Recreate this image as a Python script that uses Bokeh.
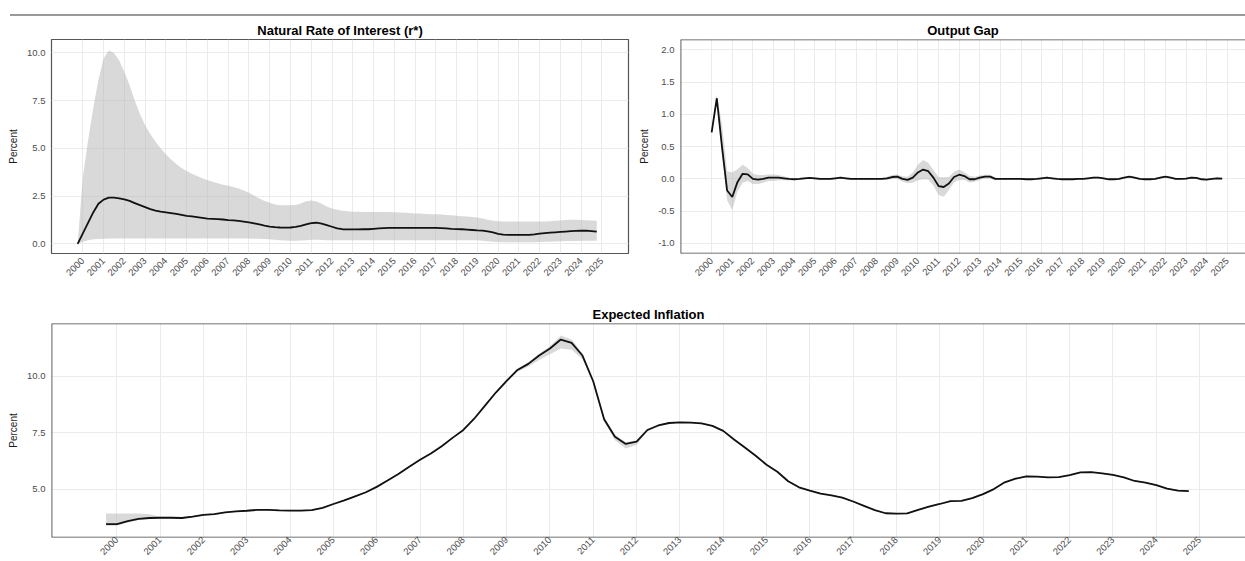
import math
from bokeh.plotting import figure
from bokeh.layouts import column, row
from bokeh.models import FixedTicker, Range1d, PrintfTickFormatter, Div, Span
from bokeh.embed import file_html
from bokeh.resources import INLINE

FONT = "Liberation Sans"

# ---------------- data ----------------
years = list(range(2000, 2026))
year_labels = [str(y) for y in years]

# Natural rate of interest, quarterly from 1999Q4 (1999.75) to 2024.75
rstar_start = 1999.75
rstar = [0.00,
         0.55, 1.10, 1.65, 2.10,
         2.32, 2.42, 2.42, 2.39,
         2.33, 2.25, 2.14, 2.03,
         1.93, 1.82, 1.75, 1.69,
         1.65, 1.61, 1.57, 1.52,
         1.47, 1.44, 1.40, 1.36,
         1.32, 1.31, 1.30, 1.28,
         1.25, 1.23, 1.21, 1.17,
         1.13, 1.08, 1.02, 0.96,
         0.91, 0.88, 0.86, 0.85,
         0.86, 0.89, 0.95, 1.03,
         1.09, 1.11, 1.06, 0.98,
         0.90, 0.82, 0.77, 0.76,
         0.76, 0.76, 0.77, 0.77,
         0.79, 0.81, 0.83, 0.84,
         0.84, 0.84, 0.84, 0.84,
         0.84, 0.84, 0.84, 0.84,
         0.84, 0.83, 0.81, 0.79,
         0.78, 0.77, 0.75, 0.73,
         0.71, 0.70, 0.66, 0.60,
         0.53, 0.49, 0.47, 0.47,
         0.47, 0.47, 0.47, 0.50,
         0.54, 0.57, 0.59, 0.61,
         0.63, 0.65, 0.67, 0.68,
         0.69, 0.70, 0.67, 0.64]
rstar_hi = [0.00,
            3.50, 5.40, 7.10, 8.60,
            9.70, 10.12, 10.00, 9.60,
            9.00, 8.30, 7.50, 6.80,
            6.20, 5.75, 5.35, 5.00,
            4.70, 4.42, 4.18, 3.98,
            3.82, 3.68, 3.55, 3.44,
            3.35, 3.26, 3.18, 3.10,
            3.04, 2.98, 2.90, 2.80,
            2.68, 2.52, 2.38, 2.25,
            2.15, 2.07, 2.03, 2.02,
            2.02, 2.04, 2.12, 2.24,
            2.28, 2.22, 2.10, 1.96,
            1.86, 1.79, 1.74, 1.71,
            1.69, 1.68, 1.67, 1.67,
            1.67, 1.67, 1.67, 1.67,
            1.66, 1.65, 1.63, 1.62,
            1.60, 1.59, 1.57, 1.56,
            1.55, 1.54, 1.52, 1.50,
            1.48, 1.45, 1.43, 1.41,
            1.38, 1.33, 1.27, 1.22,
            1.19, 1.18, 1.17, 1.17,
            1.17, 1.17, 1.17, 1.17,
            1.17, 1.18, 1.19, 1.21,
            1.23, 1.25, 1.26, 1.26,
            1.25, 1.24, 1.23, 1.22]
rstar_lo = [0.00,
            0.12, 0.20, 0.24, 0.26,
            0.27, 0.28, 0.28, 0.28,
            0.28, 0.28, 0.28, 0.28,
            0.28, 0.28, 0.28, 0.28,
            0.28, 0.28, 0.28, 0.28,
            0.28, 0.28, 0.28, 0.28,
            0.28, 0.28, 0.28, 0.28,
            0.28, 0.28, 0.28, 0.28,
            0.28, 0.27, 0.27, 0.26,
            0.25, 0.22, 0.20, 0.18,
            0.17, 0.17, 0.18, 0.20,
            0.22, 0.22, 0.21, 0.20,
            0.20, 0.20, 0.20, 0.20,
            0.20, 0.20, 0.20, 0.20,
            0.20, 0.20, 0.20, 0.20,
            0.20, 0.20, 0.20, 0.20,
            0.20, 0.20, 0.20, 0.20,
            0.20, 0.20, 0.20, 0.20,
            0.20, 0.20, 0.20, 0.20,
            0.19, 0.17, 0.14, 0.12,
            0.10, 0.09, 0.09, 0.09,
            0.09, 0.09, 0.09, 0.09,
            0.10, 0.11, 0.12, 0.13,
            0.14, 0.15, 0.16, 0.16,
            0.17, 0.17, 0.17, 0.17]

# Output gap, quarterly from 2000.0 to 2024.75
gap_start = 2000.0
gap = [0.72, 1.25, 0.50, -0.18,
       -0.28, -0.05, 0.08, 0.07,
       0.00, -0.01, 0.00, 0.02,
       0.02, 0.02, 0.01, 0.00,
       -0.005, 0.00, 0.01, 0.015,
       0.01, 0.00, 0.00, 0.00,
       0.01, 0.02, 0.01, 0.00,
       0.00, 0.00, 0.00, 0.00,
       0.00, 0.00, 0.01, 0.03,
       0.035, 0.00, -0.015, 0.02,
       0.10, 0.145, 0.12, 0.02,
       -0.11, -0.125, -0.07, 0.03,
       0.065, 0.045, -0.005, -0.005,
       0.02, 0.035, 0.035, 0.00,
       0.00, 0.00, 0.00, 0.00,
       0.00, -0.005, -0.005, 0.00,
       0.01, 0.02, 0.01, 0.00,
       -0.005, -0.005, -0.005, 0.00,
       0.00, 0.01, 0.02, 0.02,
       0.01, -0.005, -0.005, 0.00,
       0.02, 0.035, 0.02, 0.00,
       -0.005, -0.005, 0.00, 0.02,
       0.035, 0.02, 0.00, 0.00,
       0.005, 0.02, 0.015, -0.005,
       -0.01, 0.00, 0.01, 0.005]
gap_dev_hi = [0.02, 0.05, 0.35, 0.30,
              0.38, 0.20, 0.14, 0.10,
              0.08, 0.07, 0.06, 0.05,
              0.05, 0.04, 0.03, 0.02,
              0.015, 0.015, 0.015, 0.015,
              0.015, 0.015, 0.015, 0.015,
              0.015, 0.015, 0.015, 0.015,
              0.015, 0.015, 0.015, 0.015,
              0.015, 0.015, 0.025, 0.03,
              0.035, 0.04, 0.05, 0.08,
              0.12, 0.15, 0.13, 0.12,
              0.14, 0.15, 0.10, 0.08,
              0.08, 0.06, 0.05, 0.04,
              0.035, 0.03, 0.03, 0.02,
              0.012, 0.012, 0.012, 0.012,
              0.012, 0.012, 0.012, 0.012,
              0.012, 0.012, 0.012, 0.012,
              0.012, 0.012, 0.012, 0.012,
              0.012, 0.012, 0.012, 0.012,
              0.012, 0.012, 0.012, 0.012,
              0.012, 0.012, 0.012, 0.012,
              0.012, 0.012, 0.012, 0.012,
              0.012, 0.012, 0.012, 0.012,
              0.012, 0.012, 0.012, 0.012,
              0.012, 0.012, 0.012, 0.012]
gap_dev_lo = [0.02, 0.05, 0.10, 0.15,
              0.20, 0.15, 0.14, 0.10,
              0.08, 0.07, 0.06, 0.05,
              0.05, 0.04, 0.03, 0.02,
              0.015, 0.015, 0.015, 0.015,
              0.015, 0.015, 0.015, 0.015,
              0.015, 0.015, 0.015, 0.015,
              0.015, 0.015, 0.015, 0.015,
              0.015, 0.015, 0.025, 0.03,
              0.035, 0.04, 0.05, 0.08,
              0.12, 0.15, 0.13, 0.12,
              0.14, 0.15, 0.10, 0.08,
              0.08, 0.06, 0.05, 0.04,
              0.035, 0.03, 0.03, 0.02,
              0.012, 0.012, 0.012, 0.012,
              0.012, 0.012, 0.012, 0.012,
              0.012, 0.012, 0.012, 0.012,
              0.012, 0.012, 0.012, 0.012,
              0.012, 0.012, 0.012, 0.012,
              0.012, 0.012, 0.012, 0.012,
              0.012, 0.012, 0.012, 0.012,
              0.012, 0.012, 0.012, 0.012,
              0.012, 0.012, 0.012, 0.012,
              0.012, 0.012, 0.012, 0.012,
              0.012, 0.012, 0.012, 0.012]

# Expected inflation, quarterly from 1999.75 to 2024.75
infl_start = 1999.75
infl = [3.45,
        3.45, 3.58, 3.68, 3.72,
        3.73, 3.73, 3.72, 3.78,
        3.86, 3.89, 3.97, 4.01,
        4.04, 4.08, 4.08, 4.06,
        4.05, 4.05, 4.07, 4.17,
        4.34, 4.50, 4.68, 4.86,
        5.10, 5.38, 5.67, 5.99,
        6.30, 6.58, 6.90, 7.27,
        7.62, 8.12, 8.70, 9.28,
        9.80, 10.28, 10.55, 10.92,
        11.23, 11.63, 11.48, 10.92,
        9.77, 8.10, 7.32, 7.00,
        7.10, 7.62, 7.82, 7.93,
        7.96, 7.95, 7.91, 7.80,
        7.58, 7.20, 6.84, 6.48,
        6.08, 5.77, 5.35, 5.08,
        4.93, 4.80, 4.72, 4.62,
        4.45, 4.26, 4.07, 3.93,
        3.91, 3.92, 4.08, 4.22,
        4.34, 4.47, 4.48, 4.60,
        4.78, 5.00, 5.30, 5.46,
        5.56, 5.55, 5.52, 5.53,
        5.62, 5.74, 5.75, 5.70,
        5.63, 5.52, 5.36, 5.29,
        5.18, 5.02, 4.93, 4.91]
infl_dev_lo = [0.07,
               0.07, 0.06, 0.05, 0.04,
               0.03, 0.03, 0.03, 0.03,
               0.03, 0.03, 0.03, 0.03,
               0.03, 0.03, 0.03, 0.03,
               0.03, 0.03, 0.03, 0.03,
               0.03, 0.03, 0.03, 0.03,
               0.03, 0.03, 0.03, 0.03,
               0.03, 0.03, 0.03, 0.03,
               0.03, 0.03, 0.03, 0.04,
               0.06, 0.08, 0.12, 0.20,
               0.25, 0.40, 0.30, 0.15,
               0.08, 0.10, 0.15, 0.20,
               0.15, 0.06, 0.04, 0.03,
               0.03, 0.03, 0.03, 0.03,
               0.03, 0.03, 0.03, 0.03,
               0.03, 0.03, 0.03, 0.03,
               0.03, 0.03, 0.03, 0.03,
               0.03, 0.03, 0.03, 0.03,
               0.03, 0.03, 0.03, 0.03,
               0.03, 0.03, 0.03, 0.03,
               0.03, 0.03, 0.03, 0.03,
               0.03, 0.03, 0.03, 0.03,
               0.03, 0.03, 0.03, 0.03,
               0.03, 0.03, 0.03, 0.03,
               0.03, 0.03, 0.03, 0.03]
infl_dev_hi = [0.47,
               0.47, 0.34, 0.24, 0.16,
               0.05, 0.04, 0.03, 0.03,
               0.03, 0.03, 0.03, 0.03,
               0.03, 0.03, 0.03, 0.03,
               0.03, 0.03, 0.03, 0.03,
               0.03, 0.03, 0.03, 0.03,
               0.03, 0.03, 0.03, 0.03,
               0.03, 0.03, 0.03, 0.03,
               0.03, 0.03, 0.03, 0.04,
               0.05, 0.06, 0.07, 0.08,
               0.10, 0.18, 0.15, 0.10,
               0.08, 0.10, 0.10, 0.08,
               0.06, 0.05, 0.04, 0.03,
               0.03, 0.03, 0.03, 0.03,
               0.03, 0.03, 0.03, 0.03,
               0.03, 0.03, 0.03, 0.03,
               0.03, 0.03, 0.03, 0.03,
               0.03, 0.03, 0.03, 0.03,
               0.03, 0.03, 0.03, 0.03,
               0.03, 0.03, 0.03, 0.03,
               0.03, 0.03, 0.03, 0.03,
               0.03, 0.03, 0.03, 0.03,
               0.03, 0.03, 0.03, 0.03,
               0.03, 0.03, 0.03, 0.03,
               0.03, 0.03, 0.03, 0.03]

rstar_yticks = [0.0, 2.5, 5.0, 7.5, 10.0]
rstar_ylabels = ["0.0", "2.5", "5.0", "7.5", "10.0"]
gap_yticks = [-1.0, -0.5, 0.0, 0.5, 1.0, 1.5, 2.0]
gap_ylabels = ["-1.0", "-0.5", "0.0", "0.5", "1.0", "1.5", "2.0"]
infl_yticks = [5.0, 7.5, 10.0]
infl_ylabels = ["5.0", "7.5", "10.0"]

titles = ["Natural Rate of Interest (r*)", "Output Gap", "Expected Inflation"]
y_title = "Percent"

BORDER = "#555555"


def quarters(start, n):
    return [start + 0.25 * i for i in range(n)]


def make_panel(title, width, height, x_end, y_range, yticks, ylabels,
               mb_left, mb_right, mb_top, mb_bottom, label_standoff=6,
               open_right=False):
    p = figure(width=width, height=height, title=title,
               x_range=Range1d(1998.49, x_end), y_range=Range1d(*y_range),
               toolbar_location=None, output_backend="svg",
               min_border_left=mb_left, min_border_right=mb_right,
               min_border_top=mb_top, min_border_bottom=mb_bottom,
               background_fill_color="white", border_fill_color="white")
    p.title.text_font = FONT
    p.title.text_font_size = "13px"
    p.title.text_font_style = "bold"
    p.title.text_color = "#000000"
    p.title.align = "center"
    p.title.standoff = 3
    p.xaxis.ticker = FixedTicker(ticks=years)
    p.xaxis.major_label_overrides = {y: s for y, s in zip(years, year_labels)}
    p.xaxis.major_label_orientation = math.pi / 4
    p.xaxis.major_label_standoff = label_standoff
    p.yaxis.ticker = FixedTicker(ticks=yticks)
    p.yaxis.formatter = PrintfTickFormatter(format="%.1f")
    p.yaxis.major_label_overrides = {t: s for t, s in zip(yticks, ylabels)}
    p.yaxis.major_label_standoff = 6
    p.yaxis.axis_label = y_title
    p.yaxis.axis_label_text_font = FONT
    p.yaxis.axis_label_text_font_size = "10px"
    p.yaxis.axis_label_text_font_style = "normal"
    p.yaxis.axis_label_text_color = "#1a1a1a"
    p.yaxis.axis_label_standoff = 5
    for ax in p.axis:
        ax.axis_line_color = None
        ax.major_tick_line_color = None
        ax.minor_tick_line_color = None
        ax.major_tick_out = 0
        ax.major_tick_in = 0
        ax.major_label_text_font = FONT
        ax.major_label_text_font_size = "9.5px"
        ax.major_label_text_color = "#4d4d4d"
    p.xgrid.grid_line_color = "#ebebeb"
    p.ygrid.grid_line_color = "#ebebeb"
    p.xgrid.grid_line_width = 1
    p.ygrid.grid_line_width = 1
    if open_right:
        # panel continues past the window edge: border on left/top/bottom only
        p.outline_line_color = None
        for loc, dim in ((p.x_range.start, "height"), (p.y_range.start, "width"),
                         (p.y_range.end, "width")):
            p.add_layout(Span(location=loc, dimension=dim,
                              line_color="#444444", line_width=1.7))
    else:
        p.outline_line_color = BORDER
        p.outline_line_width = 1.2
    return p


# ---------------- top rule ----------------
rule = Div(text="", width=1235, height=2, margin=(14, 0, 0, 10),
           styles={"background-color": "#9a9a9a"})

BAND = dict(fill_color="#b3b3b3", fill_alpha=0.5)
LINE = dict(line_color="#111111", line_width=1.8)

# ---------------- panel 1 ----------------
p1 = make_panel(titles[0], 636, 284, 2026.28, (-0.5, 10.7),
                rstar_yticks, rstar_ylabels, 51, 8, 23, 47)
x1 = quarters(rstar_start, len(rstar))
p1.varea(x=x1, y1=rstar_lo, y2=rstar_hi, **BAND)
p1.line(x1, rstar, **LINE)

# ---------------- panel 2 ----------------
p2 = make_panel(titles[1], 609, 284, 2025.88, (-1.155, 2.16),
                gap_yticks, gap_ylabels, 41, 0, 23, 47, open_right=True)
p2.title.offset = 4
x2 = quarters(gap_start, len(gap))
gap_lo = [v - d for v, d in zip(gap, gap_dev_lo)]
gap_hi = [v + d for v, d in zip(gap, gap_dev_hi)]
p2.varea(x=x2, y1=gap_lo, y2=gap_hi, **BAND)
p2.line(x2, gap, **LINE)

# ---------------- panel 3 ----------------
p3 = make_panel(titles[2], 1245, 261, 2026.06, (2.855, 12.34),
                infl_yticks, infl_ylabels, 51, 0, 23, 24, label_standoff=1,
                open_right=True)
p3.title.offset = 4
x3 = quarters(infl_start, len(infl))
infl_lo = [v - d for v, d in zip(infl, infl_dev_lo)]
infl_hi = [v + d for v, d in zip(infl, infl_dev_hi)]
p3.varea(x=x3, y1=infl_lo, y2=infl_hi, **BAND)
p3.line(x3, infl, **LINE)

layout = column(rule, row(p1, p2), p3)

open("out.html", "w").write(file_html(layout, INLINE))
